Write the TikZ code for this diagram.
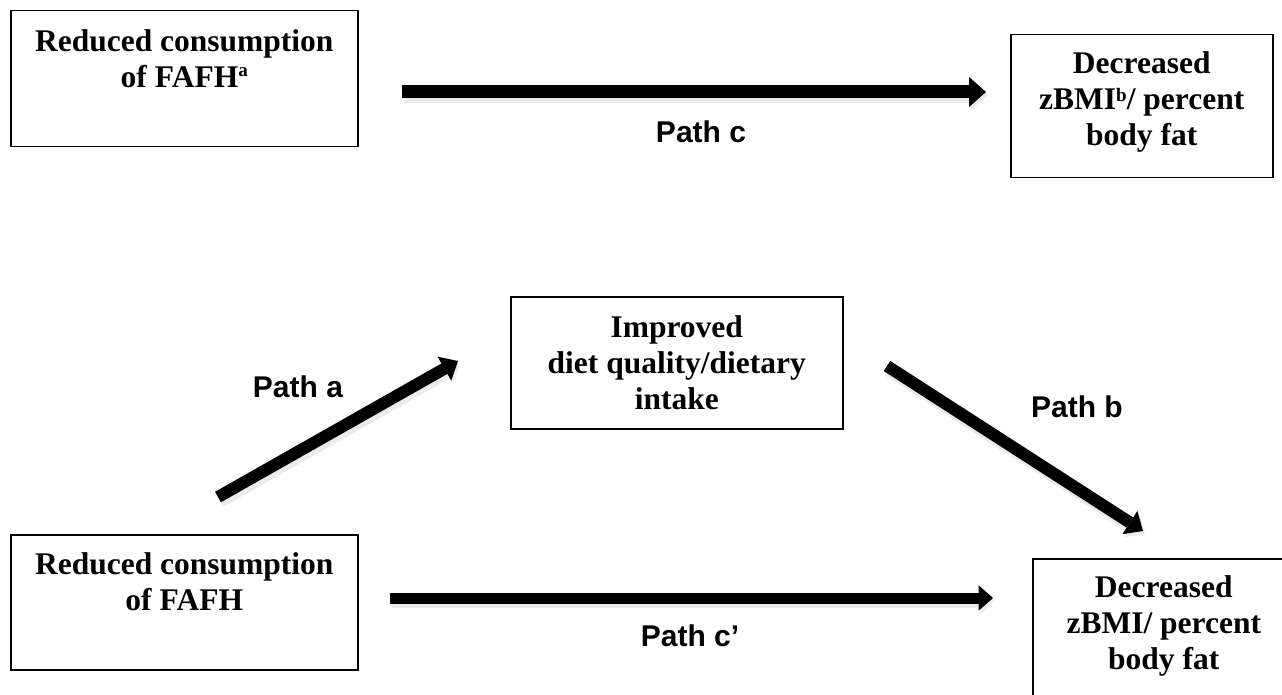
\documentclass[tikz,border=0pt]{standalone}
\usepackage{fontspec}
\setmainfont{Liberation Serif}
\newfontfamily\labelfont{Liberation Sans}
\usetikzlibrary{arrows.meta}
\newcommand\supmark[2]{\raisebox{#1}{\fontsize{19}{19}\selectfont #2}}
\newcommand\lowpad[1]{\rule[-#1]{0pt}{0pt}}

\begin{document}
\begin{tikzpicture}[x=1pt, y=-1pt,
    box/.style={draw, line width=1.5pt, align=center, anchor=north west, inner sep=0pt,
      font=\fontsize{31.5}{36}\selectfont\bfseries},
    patharrow/.style={line width=#1, -{Triangle[length=1.3*#1, width=2.3*#1, line width=0pt]},
      preaction={draw=black!8, line width=#1+3pt, transform canvas={shift={(2pt,-3pt)}}}},
    pathlabel/.style={anchor=base, font=\labelfont\fontsize{30}{36}\selectfont\bfseries}]
    \path[use as bounding box, clip] (0,0) rectangle (1282,695);
    \fill[white] (0,0) rectangle (1282,695);
    % total effect
    \node[box, minimum width=347pt, minimum height=136pt] (fafhTop) at (10,10) {Reduced consumption\\ of FAFH\supmark{11pt}{a}\\ \lowpad{5pt}};
    \node[box, minimum width=262pt, minimum height=143pt] (zbmiTop) at (1010,34) {Decreased\\ zBMI\supmark{8pt}{b}/ percent\\ body fat\lowpad{15pt}};
    \coordinate (cFrom) at (402,92); \coordinate (cTo) at (986,92);
    \draw[patharrow=13pt] (cFrom) -- (cTo);
    \node[pathlabel] (labC) at (701,143) {Path c};
    % mediated effect
    \node[box, minimum width=332pt, minimum height=132pt] (diet) at (510,296) {Improved\\ diet quality/dietary\\ intake};
    \node[box, minimum width=347pt, minimum height=135pt] (fafhBot) at (10,534) {Reduced consumption\\ of FAFH\\ \lowpad{6pt}};
    \node[box, minimum width=262pt, minimum height=143pt] (zbmiBot) at (1032,558) {Decreased\\ zBMI/ percent\\ body fat\lowpad{15pt}};
    \coordinate (aFrom) at (218,497); \coordinate (aTo) at (458,361);
    \coordinate (bFrom) at (887,366); \coordinate (bTo) at (1143,531);
    \coordinate (dFrom) at (390,598); \coordinate (dTo) at (993,598);
    \draw[patharrow=12pt] (aFrom) -- (aTo);
    \draw[patharrow=12pt] (bFrom) -- (bTo);
    \draw[patharrow=11pt] (dFrom) -- (dTo);
    \node[pathlabel] (labA) at (298,397) {Path a};
    \node[pathlabel] (labB) at (1077,417) {Path b};
    \node[pathlabel] (labCp) at (690,646) {Path c’};
\end{tikzpicture}
\end{document}
